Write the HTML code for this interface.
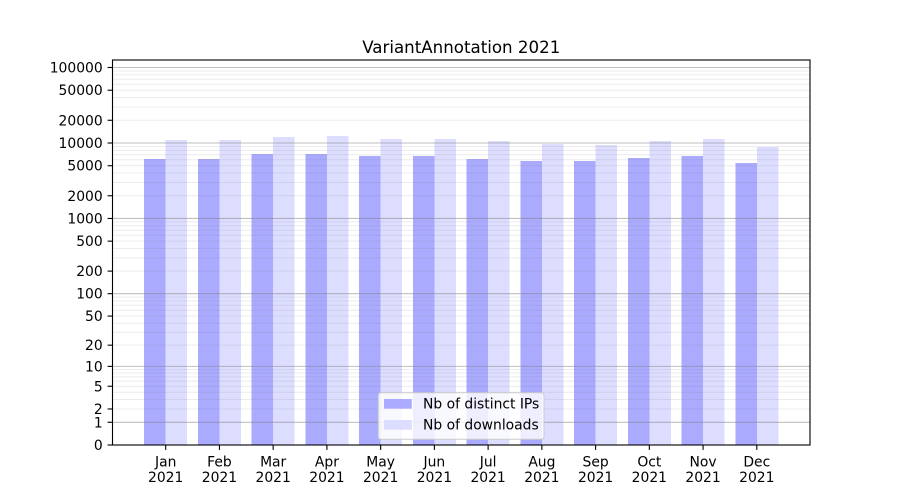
<!DOCTYPE html>
<html><head><meta charset="utf-8"><style>
html,body{margin:0;padding:0;background:#fff;}
svg{display:block;}
text{font-family:"DejaVu Sans","Liberation Sans",sans-serif;fill:#000;}
</style></head><body>
<svg id="c" width="900" height="500" viewBox="0 0 900 500" xmlns="http://www.w3.org/2000/svg">
<rect x="0" y="0" width="900" height="500" fill="#fff"/>
<g id="bars" shape-rendering="crispEdges"></g>
<g id="minor" stroke="#808080" stroke-opacity="0.15" stroke-width="1"></g>
<g id="major" stroke="#808080" stroke-opacity="0.5" stroke-width="1.1"></g>
<rect x="378.3" y="392.7" width="165.7" height="46.6" rx="2.8" ry="2.8" fill="#fff" fill-opacity="0.8" stroke="#cccccc" stroke-width="1"/>
<rect x="384" y="399" width="27.8" height="9.7" fill="rgb(170,170,255)"/>
<rect x="384" y="420" width="27.8" height="9.7" fill="rgb(221,221,255)"/>
<text x="423" y="408.5" font-size="13.89">Nb of distinct IPs</text>
<text x="423" y="429.5" font-size="13.89">Nb of downloads</text>
<rect x="112.5" y="60" width="697.5" height="385" fill="none" stroke="#000" stroke-width="1.11"/>
<g id="yt" stroke="#000" stroke-width="1.11"></g>
<g font-size="13.89" text-anchor="end">
<text x="102.7" y="450">0</text>
<text x="102.7" y="427.3">1</text>
<text x="102.7" y="414">2</text>
<text x="102.7" y="391.3">5</text>
<text x="102.7" y="371.4">10</text>
<text x="102.7" y="350.2">20</text>
<text x="102.7" y="321.1">50</text>
<text x="102.7" y="298.7">100</text>
<text x="102.7" y="276.1">200</text>
<text x="102.7" y="246.2">500</text>
<text x="102.7" y="223.5">1000</text>
<text x="102.7" y="200.8">2000</text>
<text x="102.7" y="170.7">5000</text>
<text x="102.7" y="148">10000</text>
<text x="102.7" y="125.3">20000</text>
<text x="102.7" y="95.2">50000</text>
<text x="102.7" y="72.5">100000</text>
</g>
<g id="xt" stroke="#000" stroke-width="1.11"></g>
<g font-size="13.89" text-anchor="middle">
<text x="165.70" y="466.5">Jan</text><text x="165.70" y="482">2021</text>
<text x="219.44" y="466.5">Feb</text><text x="219.44" y="482">2021</text>
<text x="273.17" y="466.5">Mar</text><text x="273.17" y="482">2021</text>
<text x="326.91" y="466.5">Apr</text><text x="326.91" y="482">2021</text>
<text x="380.65" y="466.5">May</text><text x="380.65" y="482">2021</text>
<text x="434.39" y="466.5">Jun</text><text x="434.39" y="482">2021</text>
<text x="488.12" y="466.5">Jul</text><text x="488.12" y="482">2021</text>
<text x="541.86" y="466.5">Aug</text><text x="541.86" y="482">2021</text>
<text x="595.60" y="466.5">Sep</text><text x="595.60" y="482">2021</text>
<text x="649.33" y="466.5">Oct</text><text x="649.33" y="482">2021</text>
<text x="703.07" y="466.5">Nov</text><text x="703.07" y="482">2021</text>
<text x="756.81" y="466.5">Dec</text><text x="756.81" y="482">2021</text>
</g>
<text x="461.25" y="52.8" font-size="16.67" text-anchor="middle">VariantAnnotation 2021</text>
</svg>
<script>
(function(){
var NS="http://www.w3.org/2000/svg";
function el(p,tag,a){var e=document.createElementNS(NS,tag);for(var k in a)e.setAttribute(k,a[k]);p.appendChild(e);return e;}
function Y(v){return 445-75.5*Math.log10(v+1);}
var bars=document.getElementById("bars"),minor=document.getElementById("minor"),major=document.getElementById("major"),yt=document.getElementById("yt"),xt=document.getElementById("xt");
var dark=[159,159,154,154,156,156,159,161,161,158,156,163];
var light=[140,140,137,136,139,139,141,144,145,141,139,147];
var w=21.495;
for(var i=0;i<12;i++){
  var c=165.70+i*53.737;
  el(bars,"rect",{x:(c-w).toFixed(2),y:dark[i],width:w,height:445-dark[i],fill:"rgb(170,170,255)"});
  el(bars,"rect",{x:c.toFixed(2),y:light[i],width:w,height:445-light[i],fill:"rgb(221,221,255)"});
  el(xt,"line",{x1:c.toFixed(2),x2:c.toFixed(2),y1:445,y2:449.9});
}
for(var e=0;e<5;e++){for(var m=2;m<=9;m++){var y=Y(m*Math.pow(10,e)).toFixed(2);el(minor,"line",{x1:112.5,x2:810,y1:y,y2:y});}}
for(var e=0;e<=5;e++){var y=Y(Math.pow(10,e)).toFixed(2);el(major,"line",{x1:112.5,x2:810,y1:y,y2:y});}
var tv=[0,1,2,5,10,20,50,100,200,500,1000,2000,5000,10000,20000,50000,100000];
for(var j=0;j<tv.length;j++){var y=Y(tv[j]).toFixed(2);el(yt,"line",{x1:107.6,x2:112.5,y1:y,y2:y});}
})();
</script>
</body></html>
